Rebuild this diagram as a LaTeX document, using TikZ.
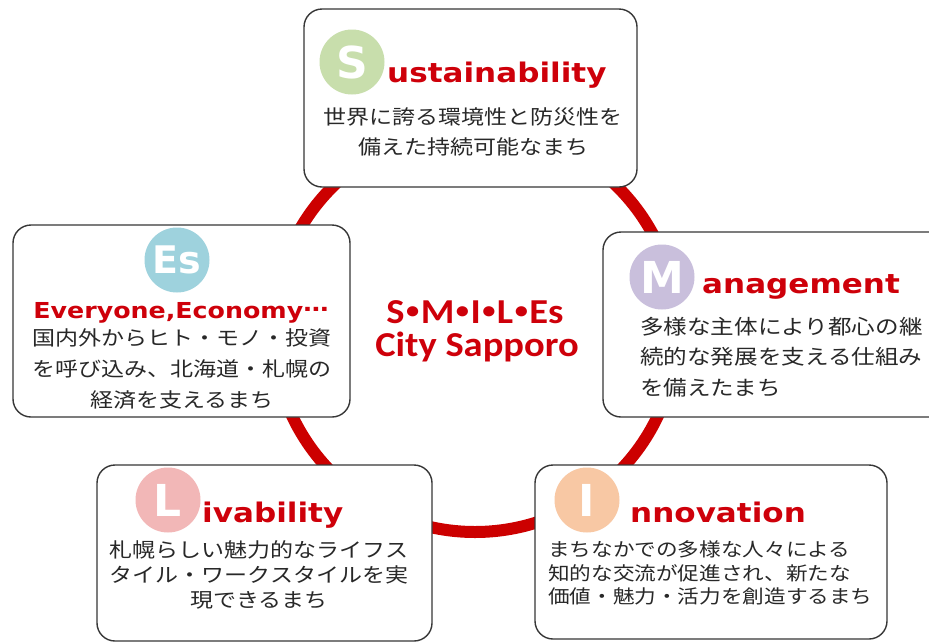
\documentclass[tikz,border=0pt]{standalone}
\usepackage{fontspec}
\newfontfamily\jp[FakeStretch=1.15]{Noto Sans CJK JP}
\newfontfamily\ttl[FakeStretch=1.15]{DejaVu Sans}
\newfontfamily\badgefont{DejaVu Sans}
\newfontfamily\ctr[FakeStretch=1.1]{Carlito}
\newcommand\smbul{\hspace{1.5pt}\raisebox{4.5pt}{\fontsize{24}{24}\selectfont•}\hspace{1.5pt}}
\definecolor{ringred}{RGB}{204,0,0}
\definecolor{titlered}{RGB}{206,0,10}
\definecolor{boxgray}{RGB}{55,55,55}
\definecolor{txtgray}{RGB}{40,40,40}
\definecolor{cS}{RGB}{200,222,172}
\definecolor{cE}{RGB}{158,210,221}
\definecolor{cM}{RGB}{201,191,220}
\definecolor{cL}{RGB}{242,183,183}
\definecolor{cI}{RGB}{248,200,164}
\begin{document}
\begin{tikzpicture}[x=1pt,y=-1pt,
  ring/.style={circle, draw=ringred, line width=12pt, minimum size=404pt, inner sep=0},
  box/.style={draw=boxgray, line width=1.4pt, rounded corners=18pt, fill=white, inner sep=0},
  badge/.style={circle, fill=#1, minimum size=65pt, inner sep=0, text=white, font=\badgefont\bfseries\fontsize{44}{44}\selectfont},
  title/.style={text=titlered, inner sep=0, font=\ttl\bfseries\fontsize{27}{27}\selectfont},
  jtxt/.style={text=txtgray, inner sep=0, font=\jp\fontsize{20}{30}\selectfont},
  ctext/.style={text=titlered, inner sep=0, font=\ctr\bfseries\fontsize{35}{35}\selectfont}
]
\clip (0,0) rectangle (929,641);
\fill[white] (0,0) rectangle (929,641);
\node[ring] (ring) at (475,330) {};
% S box
\node[box, minimum width=333pt, minimum height=178pt] (Sbox) at (470.5,98) {};
\node[badge=cS] (Sb) at (352,62) {S};
\node[title, anchor=base west] (St) at (387,82) {ustainability};
\node[jtxt, align=center] (Sj) at (473,132) {世界に誇る環境性と防災性を\\備えた持続可能なまち};
% Es box
\node[box, minimum width=337pt, minimum height=192pt] (Ebox) at (181.5,321) {};
\node[badge=cE, font=\badgefont\bfseries\fontsize{38}{38}\selectfont] (Eb) at (177,260) {Es};
\node[title, anchor=base, font=\ttl\bfseries\fontsize{22}{22}\selectfont] (Et) at (181,318) {Everyone,Economy\raisebox{6.5pt}{…}};
\node[jtxt, align=center, font=\jp\fontsize{20}{31}\selectfont] (Ej) at (182,369) {国内外からヒト・モノ・投資\\を呼び込み、北海道・札幌の\\経済を支えるまち};
% M box
\node[box, minimum width=347pt, minimum height=185pt] (Mbox) at (776.5,324.5) {};
\node[badge=cM] (Mb) at (662,277) {M};
\node[title, anchor=base west] (Mt) at (702,293) {anagement};
\node[jtxt, align=left, anchor=west, font=\jp\fontsize{20.5}{30.5}\selectfont] (Mj) at (640,357) {多様な主体により都心の継\\続的な発展を支える仕組み\\を備えたまち};
% L box
\node[box, minimum width=335pt, minimum height=176pt] (Lbox) at (264.5,553) {};
\node[badge=cL] (Lb) at (168,500) {L};
\node[title, anchor=base west] (Lt) at (202,522) {ivability};
\node[jtxt, align=center, font=\jp\fontsize{20}{25}\selectfont] (Lj) at (259,575) {札幌らしい魅力的なライフス\\タイル・ワークスタイルを実\\現できるまち};
% I box
\node[box, minimum width=352pt, minimum height=174pt] (Ibox) at (711,552) {};
\node[badge=cI] (Ib) at (587,500) {I};
\node[title, anchor=base west] (It) at (630,522) {nnovation};
\node[jtxt, align=left, anchor=west, font=\jp\fontsize{18.8}{23.5}\selectfont] (Ij) at (548,573) {まちなかでの多様な人々による\\知的な交流が促進され、新たな\\価値・魅力・活力を創造するまち};
% centre
\node[ctext] (c1) at (475,312) {S\smbul M\smbul I\smbul L\smbul Es};
\node[ctext] (c2) at (477,347) {City Sapporo};
\end{tikzpicture}
\end{document}
